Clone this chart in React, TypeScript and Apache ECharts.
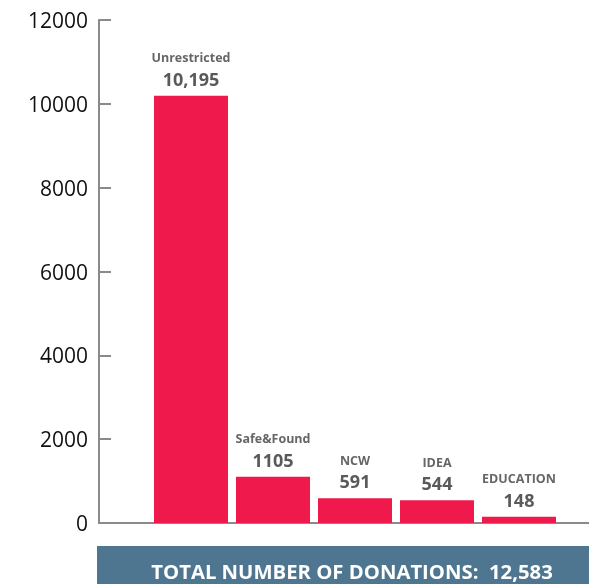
import React, { useEffect, useRef } from "react";
import * as echarts from "echarts";

const categories = ["Unrestricted", "Safe&Found", "NCW", "IDEA", "EDUCATION"];
const donations = [10195, 1105, 591, 544, 148];
const yTicks = { min: 0, max: 12000, interval: 2000 };
const totalLabel = "TOTAL NUMBER OF DONATIONS:  12,583";

const AXIS_COLOR = "#8a8a8a";
const FONT = "'Open Sans', 'Liberation Sans', sans-serif";

function fmt(v: number): string {
  return v >= 10000 ? v.toLocaleString("en-US") : String(v);
}

export default function App() {
  const ref = useRef<HTMLDivElement>(null);
  useEffect(() => {
    if (!ref.current) return;
    const chart = echarts.init(ref.current, null, { renderer: "svg" });
    chart.setOption({
      animation: false,
      grid: [
        { left: 150, right: 29, top: 20, bottom: 61 },
        { left: 99, right: 0, top: 20, bottom: 61 },
      ],
      xAxis: [
        {
          type: "category",
          data: categories,
          gridIndex: 0,
          axisLine: { show: false },
          axisTick: { show: false },
          axisLabel: { show: false },
        },
        {
          type: "value",
          gridIndex: 1,
          min: 0,
          max: 1,
          axisLine: { show: true, lineStyle: { color: AXIS_COLOR, width: 2 } },
          axisTick: { show: false },
          axisLabel: { show: false },
          splitLine: { show: false },
        },
      ],
      yAxis: [
        {
          type: "value",
          gridIndex: 0,
          min: yTicks.min,
          max: yTicks.max,
          interval: yTicks.interval,
          offset: 51,
          axisLine: { show: true, lineStyle: { color: AXIS_COLOR, width: 2 } },
          axisTick: {
            show: true,
            inside: true,
            length: 12,
            lineStyle: { color: AXIS_COLOR, width: 2 },
          },
          axisLabel: {
            color: "#111",
            fontSize: 21,
            fontFamily: FONT,
            margin: 11,
            formatter: (v: number) => String(v),
          },
          splitLine: { show: false },
        },
        {
          type: "value",
          gridIndex: 1,
          min: 0,
          max: 1,
          show: false,
        },
      ],
      series: [
        {
          type: "bar",
          xAxisIndex: 0,
          yAxisIndex: 0,
          data: donations,
          barWidth: 74,
          itemStyle: { color: "#EF1A4B" },
          label: {
            show: true,
            position: "top",
            distance: 6,
            formatter: (p: any) => `{name|${p.name}}\n{val|${fmt(p.value)}}`,
            rich: {
              name: {
                fontSize: 12.5,
                fontWeight: "bold",
                fontFamily: FONT,
                color: "#666666",
                lineHeight: 20,
                align: "center",
              },
              val: {
                fontSize: 18,
                fontWeight: "bold",
                fontFamily: FONT,
                color: "#5a5a5a",
                lineHeight: 22,
                align: "center",
              },
            },
          },
        },
      ],
      graphic: [
        {
          type: "rect",
          shape: { x: 97, y: 546, width: 492, height: 38 },
          style: { fill: "#4E7691" },
        },
        {
          type: "text",
          x: 352,
          y: 571,
          style: {
            text: totalLabel,
            fill: "#ffffff",
            fontSize: 20.3,
            fontWeight: "bold",
            fontFamily: FONT,
            align: "center",
            verticalAlign: "middle",
          },
        },
      ],
    });
    return () => chart.dispose();
  }, []);
  return (
    <div
      ref={ref}
      style={{ position: "fixed", left: 0, top: 0, width: 589, height: 584 }}
    />
  );
}
